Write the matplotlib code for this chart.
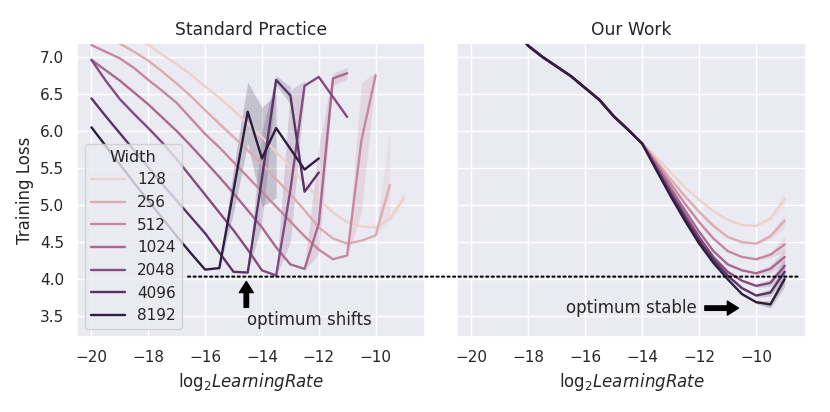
import matplotlib
matplotlib.use("Agg")
import numpy as np
import matplotlib.pyplot as plt
import seaborn as sns
from matplotlib.patches import ConnectionPatch

sns.set_theme(style="darkgrid")

widths = [128, 256, 512, 1024, 2048, 4096, 8192]


def sweep(a, b):
    # learning rate sweep, half steps in log2
    return np.arange(a, b + 0.25, 0.5)


# ---- Standard Practice (left) ----
std_lr = {
    128: sweep(-19, -9),
    256: sweep(-20, -9.5),
    512: sweep(-20, -10),
    1024: sweep(-20, -11),
    2048: sweep(-20, -11),
    4096: sweep(-20, -12),
    8192: sweep(-20, -12),
}
std_128 = [7.45, 7.3, 7.16, 7.03, 6.9, 6.76, 6.6, 6.45, 6.28, 6.1, 5.92, 5.72, 5.52, 5.3, 5.08, 4.9, 4.77, 4.71, 4.7, 4.81, 5.1]
std_256 = [7.42, 7.3, 7.18, 7.07, 6.95, 6.8, 6.64, 6.47, 6.28, 6.1, 5.92, 5.74, 5.55, 5.35, 5.15, 4.93, 4.7, 4.55, 4.48, 4.52, 4.59, 5.27]
std_512 = [7.16, 7.07, 6.98, 6.85, 6.69, 6.54, 6.38, 6.17, 5.96, 5.78, 5.58, 5.38, 5.18, 4.98, 4.78, 4.58, 4.4, 4.27, 4.32, 5.87, 6.75]
std_1024 = [6.96, 6.82, 6.68, 6.52, 6.36, 6.18, 6.0, 5.8, 5.59, 5.38, 5.16, 4.93, 4.7, 4.43, 4.2, 4.14, 4.75, 6.71, 6.78]
std_2048 = [6.96, 6.68, 6.43, 6.23, 6.04, 5.84, 5.62, 5.38, 5.14, 4.9, 4.66, 4.4, 4.12, 4.05, 5.2, 6.61, 6.73, 6.46, 6.19]
std_4096 = [6.44, 6.2, 5.97, 5.74, 5.51, 5.28, 5.06, 4.84, 4.62, 4.36, 4.1, 4.09, 5.36, 6.69, 6.48, 5.18, 5.44]
std_8192 = [6.05, 5.8, 5.55, 5.3, 5.06, 4.82, 4.58, 4.35, 4.13, 4.15, 5.2, 6.26, 5.63, 6.04, 5.76, 5.48, 5.63]
std_loss = {128: std_128, 256: std_256, 512: std_512, 1024: std_1024,
            2048: std_2048, 4096: std_4096, 8192: std_8192}

# confidence bands (lr, low, high) where seeds disagree
std_band_128 = ([-9.5, -9], [4.78, 5.0], [4.85, 5.22])
std_band_256 = ([-10, -9.5], [4.57, 4.83], [4.62, 6.0])
std_band_512 = ([-11, -10.5, -10], [4.3, 4.9, 6.7], [4.35, 6.65, 6.8])
std_band_1024 = ([-12.5, -12, -11.5, -11], [4.12, 4.35, 6.62, 6.7], [4.17, 5.8, 6.78, 6.86])
std_band_2048 = ([-13.5, -13, -12.5], [4.04, 4.5, 6.52], [4.07, 6.55, 6.68])
std_band_4096 = ([-14.5, -14, -13.5, -13], [4.08, 4.75, 6.62, 6.36], [4.1, 6.0, 6.75, 6.6])
std_band_8192 = ([-15.5, -15, -14.5, -14, -13.5], [4.14, 4.9, 5.83, 4.98, 5.1], [4.16, 5.5, 6.66, 6.32, 6.5])
std_band = {128: std_band_128, 256: std_band_256, 512: std_band_512, 1024: std_band_1024,
            2048: std_band_2048, 4096: std_band_4096, 8192: std_band_8192}

# ---- Our Work (right) ----
our_lr = sweep(-19, -9)
our_common = [7.7, 7.4, 7.15, 7.0, 6.87, 6.74, 6.58, 6.42, 6.2, 6.02, 5.83]  # -19 .. -14, all widths overlap
our_128 = [5.65, 5.44, 5.24, 5.07, 4.92, 4.8, 4.73, 4.72, 4.82, 5.08]
our_256 = [5.6, 5.35, 5.12, 4.91, 4.72, 4.57, 4.5, 4.48, 4.58, 4.79]
our_512 = [5.57, 5.29, 5.02, 4.77, 4.55, 4.38, 4.3, 4.27, 4.33, 4.47]
our_1024 = [5.54, 5.23, 4.93, 4.64, 4.38, 4.2, 4.12, 4.08, 4.14, 4.3]
our_2048 = [5.51, 5.18, 4.87, 4.57, 4.3, 4.1, 3.98, 3.91, 3.95, 4.18]
our_4096 = [5.49, 5.15, 4.83, 4.52, 4.26, 4.05, 3.88, 3.78, 3.82, 4.1]
our_8192 = [5.47, 5.12, 4.79, 4.48, 4.22, 4.0, 3.8, 3.69, 3.66, 4.0]
our_loss = {128: our_128, 256: our_256, 512: our_512, 1024: our_1024,
            2048: our_2048, 4096: our_4096, 8192: our_8192}
# half width of the band at lr = -10, -9.5, -9
our_spread = {128: [0.02, 0.04, 0.12], 256: [0.02, 0.04, 0.1], 512: [0.02, 0.04, 0.1],
              1024: [0.02, 0.05, 0.1], 2048: [0.02, 0.05, 0.1], 4096: [0.02, 0.05, 0.1],
              8192: [0.02, 0.05, 0.1]}

colors = sns.cubehelix_palette(n_colors=len(widths))

fig = plt.figure(figsize=(8.3, 4.12), dpi=100)
ax1 = fig.add_axes([0.0931, 0.182, 0.4193, 0.714])
ax2 = fig.add_axes([0.5506, 0.182, 0.4205, 0.714], sharey=ax1)

for w, c in zip(widths, colors):
    bx, lo, hi = std_band[w]
    ax1.fill_between(bx, lo, hi, color=c, alpha=0.2, linewidth=0)
    ax1.plot(std_lr[w], std_loss[w], color=c, lw=1.7, label=str(w))

    y = np.array(our_common + our_loss[w])
    ax2.plot(our_lr, y, color=c, lw=1.7)
    s = np.array(our_spread[w])
    ax2.fill_between(our_lr[-3:], y[-3:] - s, y[-3:] + s, color=c, alpha=0.2, linewidth=0)

for ax, title in [(ax1, "Standard Practice"), (ax2, "Our Work")]:
    ax.set_xlim(-20.5, -8.25)
    ax.set_xticks([-20, -18, -16, -14, -12, -10])
    ax.set_title(title, fontsize=12.3)
    ax.set_xlabel(r"$\mathrm{log}_2LearningRate$", fontsize=12)
    ax.tick_params(labelsize=11)

ax1.set_ylim(3.22, 7.19)
ax1.set_yticks([3.5, 4.0, 4.5, 5.0, 5.5, 6.0, 6.5, 7.0])
ax1.set_yticklabels(["3.5", "4.0", "4.5", "5.0", "5.5", "6.0", "6.5", "7.0"])
ax1.set_ylabel("Training Loss", fontsize=12)
plt.setp(ax2.get_yticklabels(), visible=False)

leg = ax1.legend(title="Width", loc="lower left", fontsize=11, title_fontsize=11.5,
                 handlelength=2.2)

# dotted line marking the best loss, running across both panels
best = 4.035
con = ConnectionPatch(xyA=(-16.6, best), coordsA=ax1.transData,
                      xyB=(-8.44, best), coordsB=ax2.transData,
                      linestyle=":", color="black", lw=1.5)
fig.add_artist(con)

arrow = dict(facecolor="black", edgecolor="black", width=3.2, headwidth=10, headlength=8, shrink=0)
ax1.annotate("", xy=(-14.55, 3.97), xytext=(-14.55, 3.62), arrowprops=arrow)
ax1.text(-14.52, 3.45, "optimum shifts", ha="left", va="center", fontsize=12)

ax2.annotate("", xy=(-10.62, 3.61), xytext=(-11.8, 3.61), arrowprops=arrow)
ax2.text(-12.07, 3.61, "optimum stable", ha="right", va="center", fontsize=12)

fig.savefig("out.png", dpi=100)
